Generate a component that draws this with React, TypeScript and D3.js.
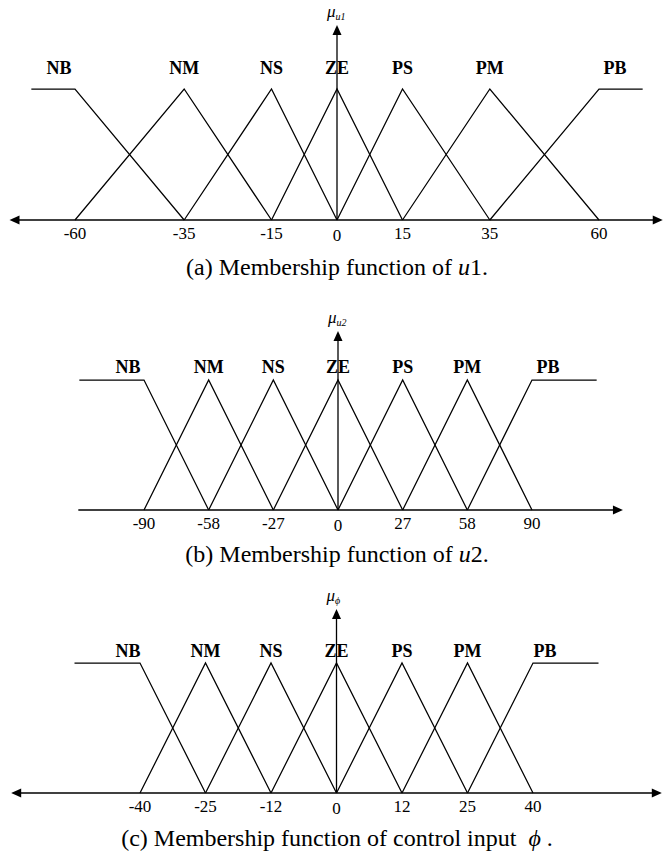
import React from "react";
import * as d3 from "d3";

// Linguistic terms shared by all three universes
const terms = ["NB", "NM", "NS", "ZE", "PS", "PM", "PB"];

// Breakpoints (peak positions) of each universe of discourse
const u1Ticks = [-60, -35, -15, 0, 15, 35, 60];
const u2Ticks = [-90, -58, -27, 0, 27, 58, 90];
const phiTicks = [-40, -25, -12, 0, 12, 25, 40];

const W = 663;
const H = 859;
const AXIS_X = 337;
const SERIF = "'Liberation Serif', 'Times New Roman', Times, serif";
const PHI = "\u03D5";

type Panel = {
  key: string;
  ticks: number[];
  evenSpacing: boolean; // peaks drawn equally spaced instead of to scale
  left: number;
  right: number;
  base: number;
  peak: number;
  axisTop: number;
  shoulder: number; // where the NB / PB shoulders end (universe units)
  axisFrom: number;
  axisTo: number;
  arrowLeft: boolean;
  labelLift: number;
  sideLabelShift: number;
  sub: string;
  captionY: number;
  caption: React.ReactNode;
};

const panels: Panel[] = [
  {
    key: "a",
    ticks: u1Ticks,
    evenSpacing: false,
    left: 75,
    right: 599,
    base: 220,
    peak: 89,
    axisTop: 25,
    shoulder: 70,
    axisFrom: -75,
    axisTo: 74.6,
    arrowLeft: true,
    labelLift: 15,
    sideLabelShift: 16,
    sub: "u1",
    captionY: 275,
    caption: (
      <>
        (a) Membership function of <tspan fontStyle="italic">u</tspan>1.
      </>
    ),
  },
  {
    key: "b",
    ticks: u2Ticks,
    evenSpacing: true,
    left: 144,
    right: 532,
    base: 510,
    peak: 380,
    axisTop: 331,
    shoulder: 122,
    axisFrom: -122.5,
    axisTo: 135,
    arrowLeft: false,
    labelLift: 7,
    sideLabelShift: 16,
    sub: "u2",
    captionY: 562,
    caption: (
      <>
        (b) Membership function of <tspan fontStyle="italic">u</tspan>2.
      </>
    ),
  },
  {
    key: "c",
    ticks: phiTicks,
    evenSpacing: true,
    left: 140,
    right: 533,
    base: 793,
    peak: 663,
    axisTop: 609,
    shoulder: 55,
    axisFrom: -69.5,
    axisTo: 69.5,
    arrowLeft: true,
    labelLift: 6,
    sideLabelShift: 12,
    sub: PHI,
    captionY: 846,
    caption: (
      <>
        (c) Membership function of control input{"\u00A0\u00A0"}
        <tspan fontStyle="italic">{PHI}</tspan>
        {"\u00A0"}.
      </>
    ),
  },
];

function xScaleFor(p: Panel) {
  if (!p.evenSpacing) {
    return d3
      .scaleLinear()
      .domain([p.ticks[0], p.ticks[p.ticks.length - 1]])
      .range([p.left, p.right]);
  }
  const idx = d3
    .scaleLinear()
    .domain([0, p.ticks.length - 1])
    .range([p.left, p.right]);
  return d3
    .scaleLinear()
    .domain(p.ticks)
    .range(p.ticks.map((_, i) => idx(i)));
}

// Trapezoid shoulders at the ends, triangles in between
function membership(ticks: number[], shoulder: number): [number, number][][] {
  const n = ticks.length;
  return ticks.map((t, i) => {
    if (i === 0) return [[-shoulder, 1], [t, 1], [ticks[1], 0]];
    if (i === n - 1) return [[ticks[n - 2], 0], [t, 1], [shoulder, 1]];
    return [[ticks[i - 1], 0], [t, 1], [ticks[i + 1], 0]];
  });
}

function arrowHead(tipX: number, tipY: number, dir: "left" | "right" | "up") {
  const len = 10;
  const half = 4.5;
  if (dir === "left")
    return `M${tipX},${tipY}L${tipX + len},${tipY - half}L${tipX + len},${tipY + half}Z`;
  if (dir === "right")
    return `M${tipX},${tipY}L${tipX - len},${tipY - half}L${tipX - len},${tipY + half}Z`;
  return `M${tipX},${tipY}L${tipX - half},${tipY + len}L${tipX + half},${tipY + len}Z`;
}

function MembershipPanel({ p }: { p: Panel }) {
  const x = xScaleFor(p);
  const y = d3.scaleLinear().domain([0, 1]).range([p.base, p.peak]);
  const line = d3
    .line<[number, number]>()
    .x((d) => x(d[0]))
    .y((d) => y(d[1]));
  const mfs = membership(p.ticks, p.shoulder);
  const ax0 = x(p.axisFrom);
  const ax1 = x(p.axisTo);
  const zeroX = x(0);

  return (
    <g>
      {/* horizontal axis */}
      <line
        x1={p.arrowLeft ? ax0 + 6 : ax0}
        x2={ax1 - 6}
        y1={p.base}
        y2={p.base}
        stroke="#000"
        strokeWidth={1.6}
      />
      {p.arrowLeft && <path d={arrowHead(ax0, p.base, "left")} fill="#000" />}
      <path d={arrowHead(ax1, p.base, "right")} fill="#000" />

      {/* vertical axis */}
      <line
        x1={zeroX}
        x2={zeroX}
        y1={p.base}
        y2={p.axisTop + 6}
        stroke="#000"
        strokeWidth={1.3}
      />
      <path d={arrowHead(zeroX, p.axisTop, "up")} fill="#000" />
      <text
        x={zeroX - 10}
        y={p.axisTop - 8}
        fontFamily={SERIF}
        fontSize={17}
        fontStyle="italic"
      >
        μ
        <tspan fontSize={10} dy={3}>
          {p.sub}
        </tspan>
      </text>

      {/* membership functions */}
      {mfs.map((pts, i) => (
        <path
          key={terms[i]}
          d={line(pts) ?? ""}
          fill="none"
          stroke="#000"
          strokeWidth={1.25}
          strokeLinejoin="miter"
        />
      ))}

      {/* term labels */}
      {terms.map((t, i) => {
        let lx = x(p.ticks[i]);
        if (i === 0) lx -= p.sideLabelShift;
        if (i === terms.length - 1) lx += p.sideLabelShift;
        return (
          <text
            key={t}
            x={lx}
            y={p.peak - p.labelLift}
            textAnchor="middle"
            fontFamily={SERIF}
            fontWeight="bold"
            fontSize={18}
          >
            {t}
          </text>
        );
      })}

      {/* tick labels */}
      {p.ticks.map((t) => (
        <text
          key={t}
          x={x(t)}
          y={p.base + (t === 0 ? 21 : 19)}
          textAnchor="middle"
          fontFamily={SERIF}
          fontSize={17}
        >
          {String(t)}
        </text>
      ))}

      {/* caption */}
      <text
        x={AXIS_X}
        y={p.captionY}
        textAnchor="middle"
        fontFamily={SERIF}
        fontSize={24}
      >
        {p.caption}
      </text>
    </g>
  );
}

export default function App() {
  return (
    <svg
      width={W}
      height={H}
      viewBox={`0 0 ${W} ${H}`}
      style={{ position: "absolute", left: 0, top: 0, background: "#fff" }}
    >
      <rect width={W} height={H} fill="#fff" />
      {panels.map((p) => (
        <MembershipPanel key={p.key} p={p} />
      ))}
    </svg>
  );
}
